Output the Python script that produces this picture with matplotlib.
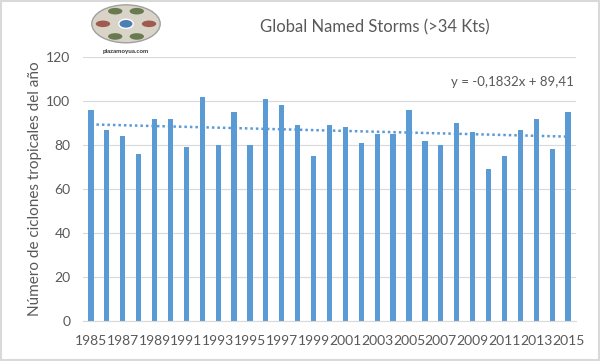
import numpy as np
import matplotlib.pyplot as plt
from matplotlib.patches import Ellipse, Rectangle

years = list(range(1985, 2016))
storms = [96, 87, 84, 76, 92, 92, 79, 102, 80, 95, 80, 101, 98, 89, 75, 89,
          88, 81, 85, 85, 96, 82, 80, 90, 86, 69, 75, 87, 92, 78, 95]
yticks = [0, 20, 40, 60, 80, 100, 120]

plt.rcParams['font.family'] = ['Lato', 'DejaVu Sans']
blue = '#5b9bd5'
grey_txt = '#595959'

fig = plt.figure(figsize=(6.0, 3.61), dpi=100)
ax = fig.add_axes([0.1383, 0.1108, 0.8217, 0.7313])

x = np.arange(len(years))
ax.bar(x, storms, width=0.33, color=blue, zorder=2)

# linea de tendencia (ajuste lineal sobre el indice 1..31)
k = np.arange(1, len(years) + 1)
m, b = np.polyfit(k, storms, 1)
ax.plot(x, m * k + b, linestyle=(0, (1, 1.2)), color=blue, linewidth=1.8, zorder=3)
ax.text(0.995, 0.905, 'y = -0,1832x + 89,41', transform=ax.transAxes,
        ha='right', va='center', fontsize=9.5, color=grey_txt)

ax.set_xlim(-0.5, len(years) - 0.5)
ax.set_ylim(0, 120)
ax.set_yticks(yticks)
ax.set_xticks(x[::2])
ax.set_xticklabels([str(y) for y in years[::2]])
ax.tick_params(axis='both', length=0, labelsize=10, labelcolor=grey_txt)
ax.tick_params(axis='x', pad=10)
ax.tick_params(axis='y', pad=9)
ax.grid(axis='y', color='#d9d9d9', linewidth=0.8, zorder=0)
for s in ['top', 'right', 'left']:
    ax.spines[s].set_visible(False)
ax.spines['bottom'].set_color('#d9d9d9')

ax.set_ylabel('Número de ciclones tropicales del año', fontsize=11, color=grey_txt, labelpad=3)
fig.text(0.625, 0.925, 'Global Named Storms (>34 Kts)', ha='center', va='center',
         fontsize=12, color=grey_txt)

# logo aproximado
lax = fig.add_axes([0.15, 0.85, 0.12, 0.14])
lax.set_xlim(0, 1)
lax.set_ylim(0, 1)
lax.axis('off')
lax.add_patch(Ellipse((0.5, 0.6), 0.95, 0.75, facecolor='#d8d4c8', edgecolor='#a0a0a0'))
lax.add_patch(Ellipse((0.5, 0.6), 0.2, 0.18, facecolor='#4a7fb5', edgecolor='#ffffff'))
for cx, cy, c in [(0.18, 0.6, '#a05a50'), (0.82, 0.6, '#a05a50'), (0.35, 0.85, '#6a7a50'),
                  (0.65, 0.85, '#6a7a50'), (0.35, 0.35, '#6a7a50'), (0.65, 0.35, '#6a7a50')]:
    lax.add_patch(Ellipse((cx, cy), 0.2, 0.13, facecolor=c, edgecolor='none'))
lax.text(0.5, 0.05, 'plazamoyua.com', ha='center', va='center', fontsize=4.5,
         color='#333333', fontweight='bold')

fig.patches.append(Rectangle((0.002, 0.004), 0.996, 0.992, transform=fig.transFigure,
                             fill=False, edgecolor='#d9d9d9', linewidth=1.5))

fig.savefig('out.png', dpi=100)
